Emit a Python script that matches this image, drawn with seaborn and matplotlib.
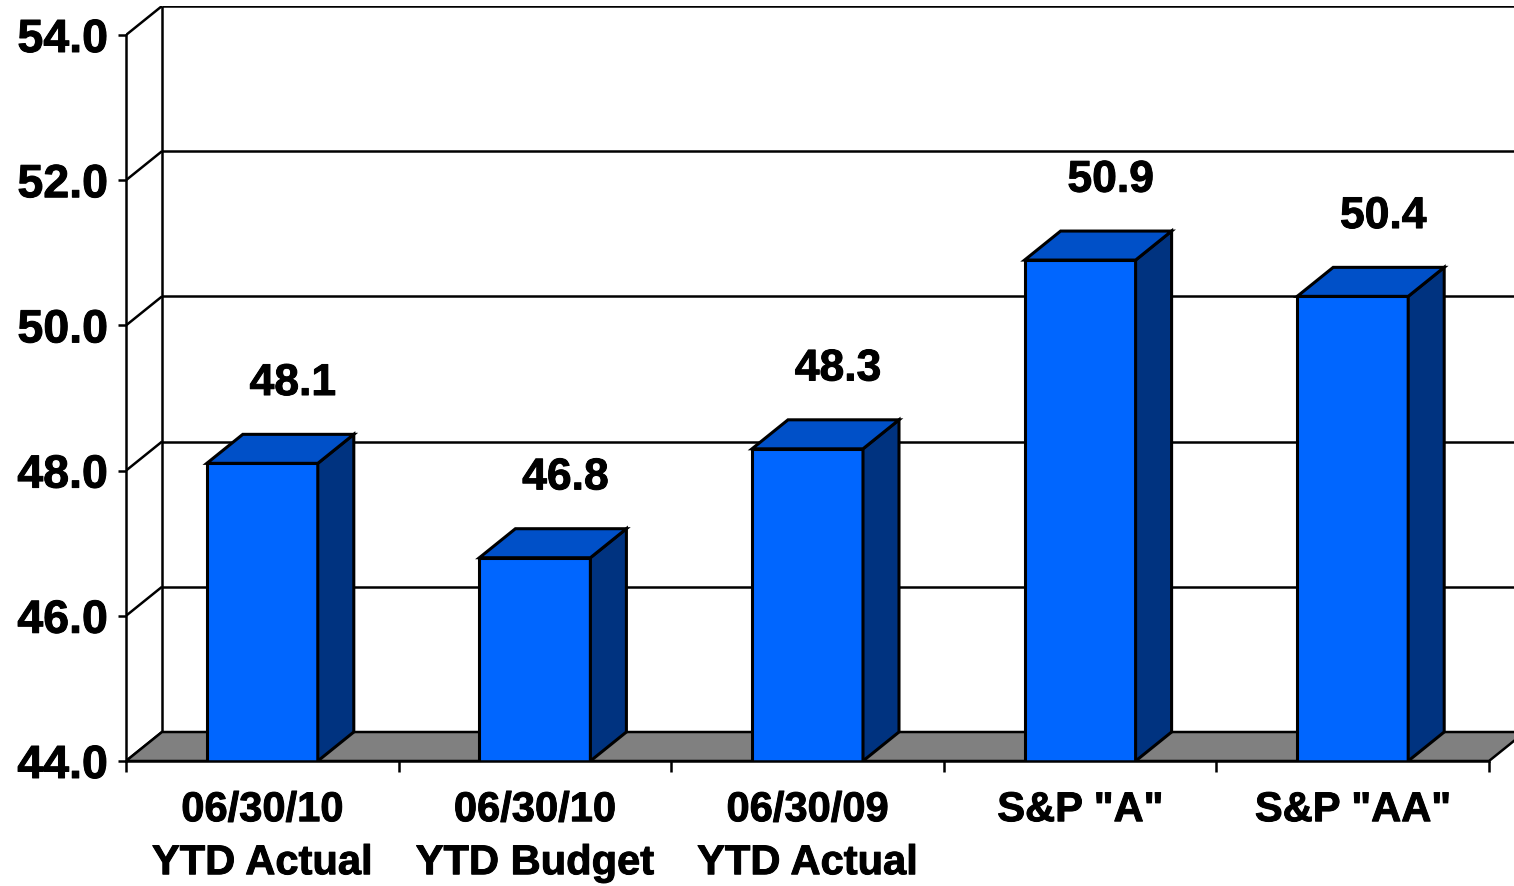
import matplotlib
matplotlib.use("Agg")
import matplotlib.pyplot as plt
from matplotlib.patches import Polygon
import matplotlib.patheffects as pe
import seaborn as sns
import pandas as pd

# Chart data
categories = ["06/30/10\nYTD Actual", "06/30/10\nYTD Budget", "06/30/09\nYTD Actual",
              'S&P "A"', 'S&P "AA"']
values = [48.1, 46.8, 48.3, 50.9, 50.4]
value_labels = ["48.1", "46.8", "48.3", "50.9", "50.4"]
y_ticks = [44, 46, 48, 50, 52, 54]
y_tick_labels = ["44.0", "46.0", "48.0", "50.0", "52.0", "54.0"]

sns.set_theme(style="white")
plt.rcParams["font.family"] = ["Liberation Sans", "DejaVu Sans"]
plt.rcParams["font.weight"] = "bold"

W, H = 1514, 886
fig = plt.figure(figsize=(W / 100, H / 100), dpi=100)

# axes region in pixels: front axis at x=126, floor at y=761, top of back wall at y=6
left_px, right_px, bottom_px, top_px = 126, 1514, 761, 6
cat_px = 272.6          # pixel width of one category
unit_px = 72.6          # pixels per value unit
ax = fig.add_axes([left_px / W, (H - bottom_px) / H,
                   (right_px - left_px) / W, (bottom_px - top_px) / H])

x_min = -0.5
x_max = x_min + (right_px - left_px) / cat_px
y_min = 44
y_max = y_min + (bottom_px - top_px) / unit_px

# depth offset of the 3-D look
dx = 36 / cat_px
dy = 29 / unit_px
bar_w = 111 / cat_px

heavy = [pe.withStroke(linewidth=0.7, foreground="black")]

df = pd.DataFrame({"cat": categories, "val": values})
sns.barplot(data=df, x="cat", y="val", order=categories, width=bar_w,
            color="#0066FF", saturation=1, edgecolor="black", linewidth=2.2,
            ax=ax, zorder=3)

ax.set_xlim(x_min, x_max)
ax.set_ylim(y_min, y_max)

line_kw = dict(color="black", lw=1.8, solid_capstyle="butt", zorder=1)

# floor
floor = Polygon([(-0.5, y_min), (4.5, y_min), (4.5 + dx, y_min + dy),
                 (-0.5 + dx, y_min + dy)], closed=True, facecolor="#808080",
                edgecolor="black", lw=1.8, zorder=1.5)
ax.add_patch(floor)

# back wall: gridlines and the connectors to the front axis
for t in y_ticks:
    ax.plot([-0.5 + dx, x_max + 1], [t + dy, t + dy], **line_kw)
    ax.plot([-0.5, -0.5 + dx], [t, t + dy], **line_kw)
ax.plot([-0.5 + dx, -0.5 + dx], [y_min + dy, y_ticks[-1] + dy], **line_kw)

# 3-D top and side faces of each bar
for i, v in enumerate(values):
    l, r = i - bar_w / 2, i + bar_w / 2
    side = Polygon([(r, y_min), (r + dx, y_min + dy), (r + dx, v + dy), (r, v)],
                   closed=True, facecolor="#003380", edgecolor="black", lw=2.2,
                   zorder=3, joinstyle="miter")
    top = Polygon([(l, v), (r, v), (r + dx, v + dy), (l + dx, v + dy)],
                  closed=True, facecolor="#0050C8", edgecolor="black", lw=2.2,
                  zorder=3, joinstyle="miter")
    ax.add_patch(side)
    ax.add_patch(top)
    ax.text(i + dx * 0.85, v + dy + 0.7, value_labels[i], ha="center",
            va="center", fontsize=32, fontweight="bold", color="black",
            zorder=5, path_effects=heavy)

# axes lines and ticks
for s in ["top", "right"]:
    ax.spines[s].set_visible(False)
ax.spines["left"].set_bounds(y_min, y_ticks[-1])
ax.spines["bottom"].set_bounds(-0.5, 4.5)
for s in ["left", "bottom"]:
    ax.spines[s].set_color("black")
    ax.spines[s].set_linewidth(1.8)
    ax.spines[s].set_zorder(4)

ax.set_yticks(y_ticks)
ax.set_yticklabels(y_tick_labels, fontsize=33.5, fontweight="bold")
ax.tick_params(axis="y", direction="out", length=6, width=1.8, pad=7,
               colors="black", left=True)

ax.set_xticks(range(len(categories)))
ax.set_xticklabels(categories, fontsize=30, fontweight="bold", linespacing=1.42)
ax.set_xticks([i - 0.5 for i in range(len(categories) + 1)], minor=True)
ax.tick_params(axis="x", which="major", length=0, pad=21, colors="black")
ax.tick_params(axis="x", which="minor", direction="out", length=8, width=1.8,
               colors="black", bottom=True)

for lbl in ax.get_xticklabels() + ax.get_yticklabels():
    lbl.set_path_effects(heavy)

ax.set_xlabel("")
ax.set_ylabel("")
ax.set_facecolor("white")
ax.grid(False)

fig.savefig("out.png", dpi=100, facecolor="white")
